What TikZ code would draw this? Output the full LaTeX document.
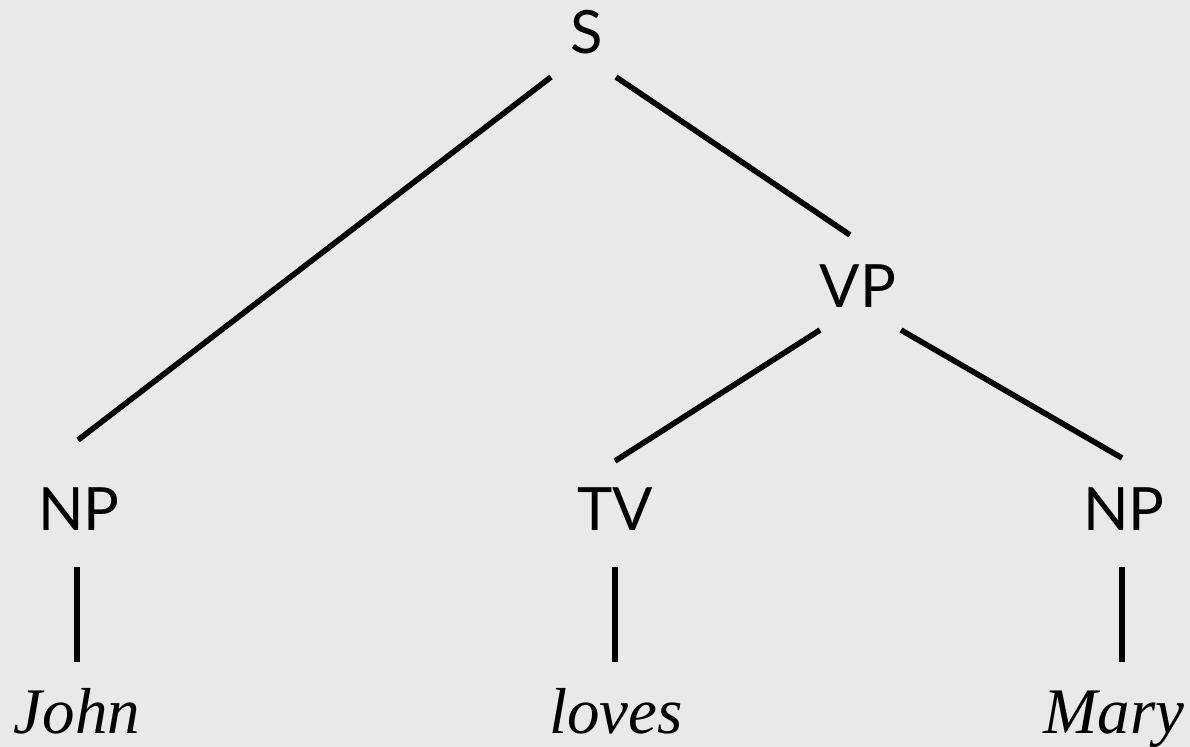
\documentclass[tikz,border=0pt]{standalone}
\usepackage{fontspec}
\newfontfamily\labelfont{Lato}
\newfontfamily\wordfont{Liberation Serif}
\definecolor{bg}{HTML}{E9E9E9}
\tikzset{
  cat/.style={inner sep=0pt, anchor=base, font=\labelfont\fontsize{34pt}{35pt}\selectfont},
  word/.style={inner sep=0pt, anchor=base, font=\wordfont\itshape\fontsize{37pt}{38pt}\selectfont},
  branch/.style={line width=3.2pt, black}
}
\begin{document}
\begin{tikzpicture}[x=0.02cm,y=-0.02cm]
\fill[bg] (0,0) rectangle (1190,747);
\useasboundingbox (0,0) rectangle (1190,747);
% category labels
\node[cat] (S) at (587,53) {S};
\node[cat] (VP) at (858,307) {VP};
\node[cat] (NPl) at (79,530) {NP};
\node[cat] (TV) at (615,530) {TV};
\node[cat] (NPr) at (1124,530) {NP};
% words
\node[word] (John) at (77,733) {John};
\node[word] (loves) at (616,733) {loves};
\node[word] (Mary) at (1114,733) {Mary};
% branch end points
\coordinate (S-l) at (551,77);
\coordinate (S-r) at (616,77);
\coordinate (VP-t) at (850,235);
\coordinate (VP-l) at (820,330);
\coordinate (VP-r) at (901,330);
\coordinate (NPl-t) at (78,440);
\coordinate (TV-t) at (615,461);
\coordinate (NPr-t) at (1122,458);
\coordinate (NPl-b) at (77,567);
\coordinate (John-t) at (77,662);
\coordinate (TV-b) at (615,567);
\coordinate (loves-t) at (615,662);
\coordinate (NPr-b) at (1122,567);
\coordinate (Mary-t) at (1122,662);
% branches
\draw[branch] (S-l) -- (NPl-t);
\draw[branch] (S-r) -- (VP-t);
\draw[branch] (VP-l) -- (TV-t);
\draw[branch] (VP-r) -- (NPr-t);
\draw[branch] (NPl-b) -- (John-t);
\draw[branch] (TV-b) -- (loves-t);
\draw[branch] (NPr-b) -- (Mary-t);
\end{tikzpicture}
\end{document}
